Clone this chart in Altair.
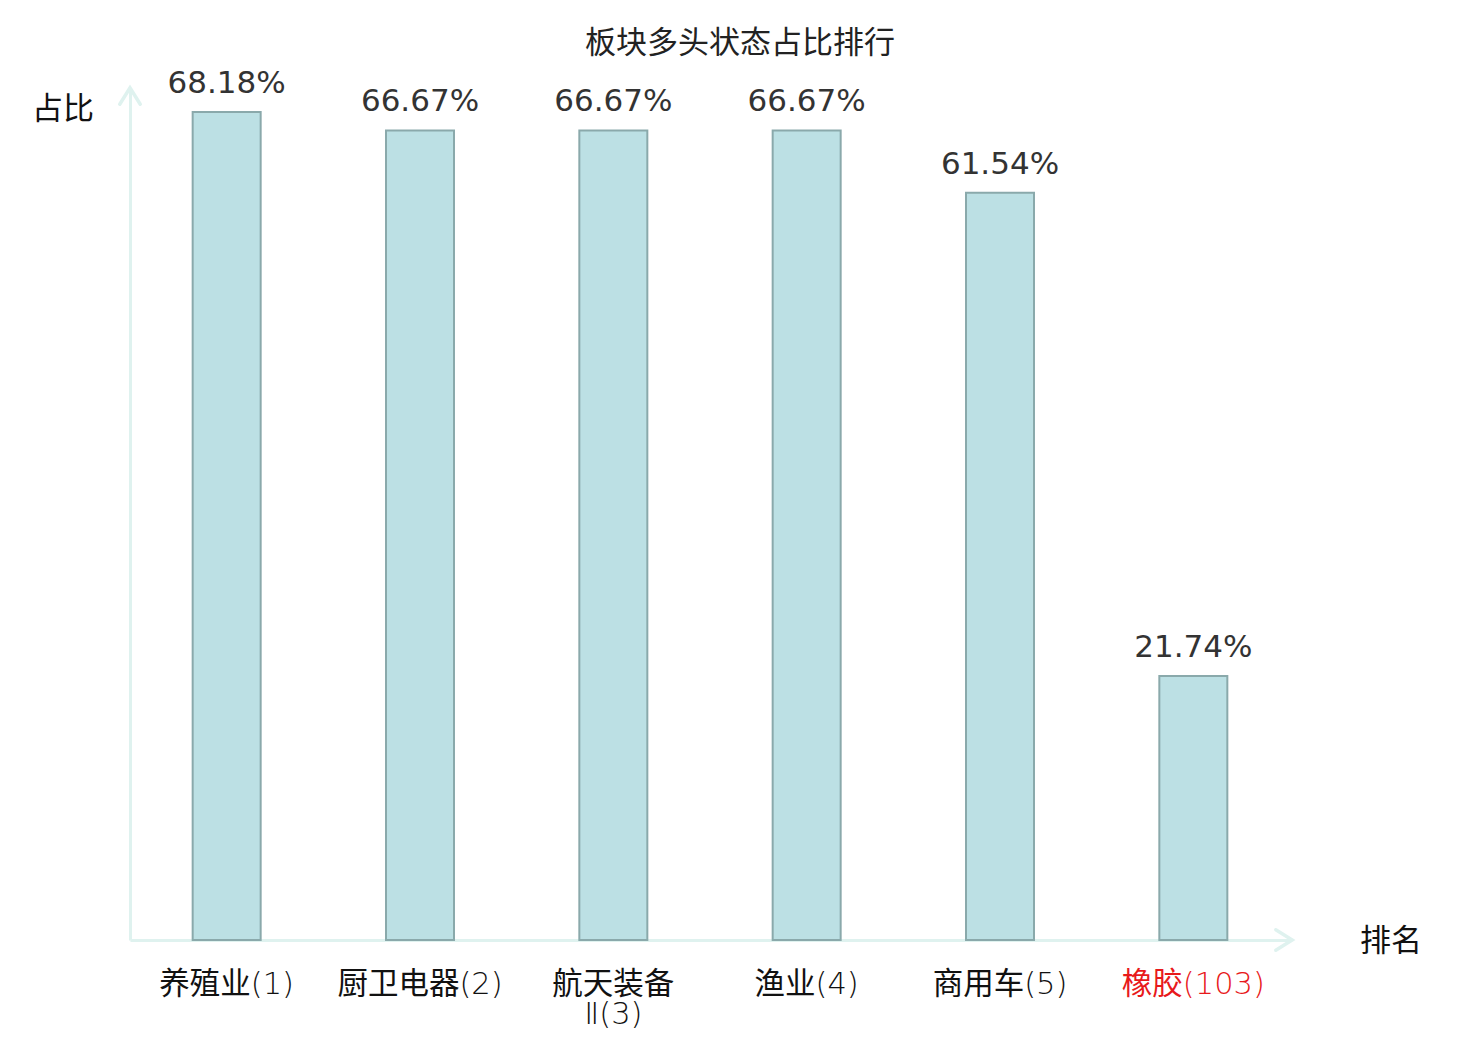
import altair as alt
import pandas as pd

categories = ["养殖业(1)", "厨卫电器(2)", "航天装备Ⅱ(3)", "渔业(4)", "商用车(5)", "橡胶(103)"]
tick_labels = ["养殖业(1)", "厨卫电器(2)", "航天装备\nⅡ(3)", "渔业(4)", "商用车(5)", "橡胶(103)"]
values = [68.18, 66.67, 66.67, 66.67, 61.54, 21.74]
label_colors = ["#111111", "#111111", "#111111", "#111111", "#111111", "#e8191b"]

title_text = "板块多头状态占比排行"
y_title = "占比"
x_title = "排名"

FONT = "DejaVu Sans, Noto Sans CJK SC"
LABEL_FONT = "DejaVu Sans Light, Noto Sans CJK SC"
AXIS_COLOR = "#dff2ef"

df = pd.DataFrame({
    "cat": categories,
    "val": values,
    "lab": tick_labels,
    "col": label_colors,
    "txt": [f"{v:.2f}%" for v in values],
})

W, H = 1160, 850

xenc = alt.X("cat:N", sort=categories, scale=alt.Scale(paddingInner=0, paddingOuter=0),
             axis=alt.Axis(labels=False, ticks=False, title=None, grid=False,
                           domainColor=AXIS_COLOR, domainWidth=3))
yenc = alt.Y("val:Q", scale=alt.Scale(domain=[0, 70], nice=False, zero=True),
             axis=alt.Axis(labels=False, ticks=False, grid=False, title=None,
                           domainColor=AXIS_COLOR, domainWidth=3))

base = alt.Chart(df)

bars = base.mark_bar(width=68, fill="#bce0e4", stroke="#8aa9ab", strokeWidth=2).encode(x=xenc, y=yenc)

vals = base.mark_text(fontSize=31, font=FONT, color="#333333", baseline="alphabetic", dy=-19).encode(
    x=alt.X("cat:N", sort=categories), y="val:Q", text="txt:N")

xlabels = base.mark_text(fontSize=30.5, font=LABEL_FONT, baseline="alphabetic",
                         lineBreak="\n", lineHeight=30).encode(
    x=alt.X("cat:N", sort=categories), y=alt.value(H + 54), text="lab:N",
    color=alt.Color("col:N", scale=None))

one = alt.Data(values=[{}])

title = alt.Chart(one).mark_text(text=title_text, fontSize=31, font=FONT, color="#222222", baseline="middle").encode(
    x=alt.value(610), y=alt.value(-46))
ytitle = alt.Chart(one).mark_text(text=y_title, fontSize=31, font=FONT, color="#111111", baseline="middle").encode(
    x=alt.value(-67), y=alt.value(20))
xtitle = alt.Chart(one).mark_text(text=x_title, fontSize=31, font=FONT, color="#111111", baseline="middle").encode(
    x=alt.value(1261), y=alt.value(H + 2))

arrow_path = "M-1,0.8 L0,-0.8 L1,0.8"
up_arrow = alt.Chart(one).mark_point(shape=arrow_path, size=420, filled=False, stroke=AXIS_COLOR,
                                      strokeWidth=3.5, opacity=1, strokeCap="round").encode(
    x=alt.value(0), y=alt.value(6))
right_arrow = alt.Chart(one).mark_point(shape=arrow_path, size=420, filled=False, stroke=AXIS_COLOR,
                                         strokeWidth=3.5, angle=90, opacity=1, strokeCap="round").encode(
    x=alt.value(W - 6), y=alt.value(H))

chart = alt.layer(bars, vals, xlabels, title, ytitle, xtitle, up_arrow, right_arrow).properties(
    width=W, height=H,
    background="white",
    autosize=alt.AutoSizeParams(type="none"),
    padding={"left": 122, "top": 82, "right": 180, "bottom": 92},
).configure_view(strokeWidth=0, stroke="transparent")

chart.save("out.html", embed_options={"renderer": "svg", "actions": False})
